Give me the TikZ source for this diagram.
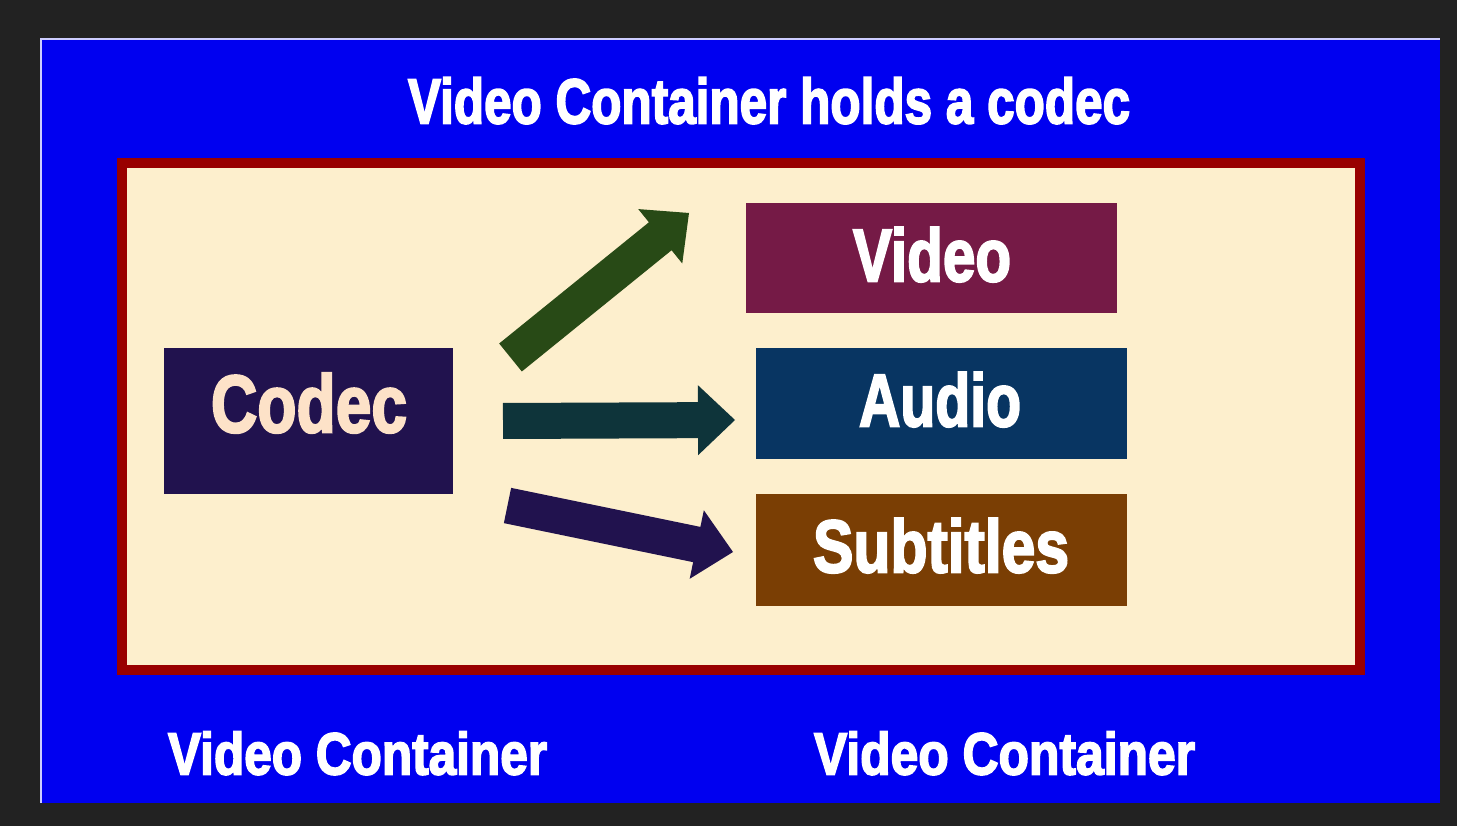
\documentclass[tikz,border=0pt]{standalone}
\usepackage{fontspec}
\usepackage{graphicx}
\usetikzlibrary{calc}
\newfontfamily\imp[BoldFeatures={FakeBold=3}]{Liberation Sans}

\definecolor{pagebg}{RGB}{34,34,34}
\definecolor{panelblue}{RGB}{0,0,240}
\definecolor{panelrim}{RGB}{205,205,255}
\definecolor{framered}{RGB}{153,0,0}
\definecolor{cream}{RGB}{253,239,205}
\definecolor{codecfill}{RGB}{33,18,78}
\definecolor{codectext}{RGB}{253,226,200}
\definecolor{videofill}{RGB}{117,26,70}
\definecolor{audiofill}{RGB}{8,53,98}
\definecolor{subfill}{RGB}{122,62,4}
\definecolor{arrowgreen}{RGB}{40,74,22}
\definecolor{arrowteal}{RGB}{14,52,58}
\definecolor{arrowpurple}{RGB}{33,18,78}

% condensed heavy lettering squeezed to a given width and height
\newcommand\fittext[3]{\resizebox{#1pt}{#2pt}{\imp\bfseries #3}}

% block arrow from a tail coordinate to a tip coordinate
\newcommand\blockarrow[3]{%
  \coordinate (#3-b) at ($(#3)!37pt!(#2)$);
  \fill[#1] ($(#2)!18pt!90:(#3)$) -- ($(#3-b)!18pt!90:(#3)$)
    -- ($(#3-b)!35pt!90:(#3)$) -- (#3)
    -- ($(#3-b)!35pt!-90:(#3)$) -- ($(#3-b)!18pt!-90:(#3)$)
    -- ($(#2)!18pt!-90:(#3)$) -- cycle;}

\tikzset{
  blockbox/.style={rectangle, inner sep=0pt, outer sep=0pt, anchor=north west},
  lettering/.style={inner sep=0pt, outer sep=0pt, anchor=south west},
}

\begin{document}
\begin{tikzpicture}[x=1pt,y=-1pt]
\useasboundingbox (0,0) rectangle (1457,826);
\fill[pagebg] (0,0) rectangle (1457,826);

% blue panel with its light rim on the left and top
\fill[panelblue] (40,38) rectangle (1440,803);
\draw[panelrim, line width=2pt] (41,803) -- (41,39) -- (1440,39);

% title
\node[lettering, text=white] (title) at (408,124) {\fittext{722}{46}{Video Container holds a codec}};

% cream area inside the red frame
\draw[framered, line width=10pt, fill=cream] (122,163) rectangle (1360,670);

% codec and stream boxes
\node[blockbox, fill=codecfill, minimum width=289pt, minimum height=146pt] (codec) at (164,348) {};
\node[blockbox, fill=videofill, minimum width=371pt, minimum height=110pt] (video) at (746,203) {};
\node[blockbox, fill=audiofill, minimum width=371pt, minimum height=111pt] (audio) at (756,348) {};
\node[blockbox, fill=subfill, minimum width=371pt, minimum height=112pt] (subs) at (756,494) {};

\node[lettering, text=codectext] (codectxt) at (211,433) {\fittext{196}{59}{Codec}};
\node[lettering, text=white] (videotxt) at (853,282) {\fittext{158}{54}{Video}};
\node[lettering, text=white] (audiotxt) at (859,427) {\fittext{162}{54}{Audio}};
\node[lettering, text=white] (substxt) at (813,573) {\fittext{256}{54}{Subtitles}};

% arrows from the codec towards the streams
\coordinate (gtail) at (510.5,357.5);
\coordinate (gtip) at (689,213);
\coordinate (ttail) at (503,421);
\coordinate (ttip) at (735,420);
\coordinate (ptail) at (507.5,505.5);
\coordinate (ptip) at (733,552);
\blockarrow{arrowgreen}{gtail}{gtip}
\blockarrow{arrowteal}{ttail}{ttip}
\blockarrow{arrowpurple}{ptail}{ptip}

% captions under the frame
\node[lettering, text=white] (capleft) at (168,775) {\fittext{379}{43}{Video Container}};
\node[lettering, text=white] (capright) at (814,775) {\fittext{381}{43}{Video Container}};
\end{tikzpicture}
\end{document}
